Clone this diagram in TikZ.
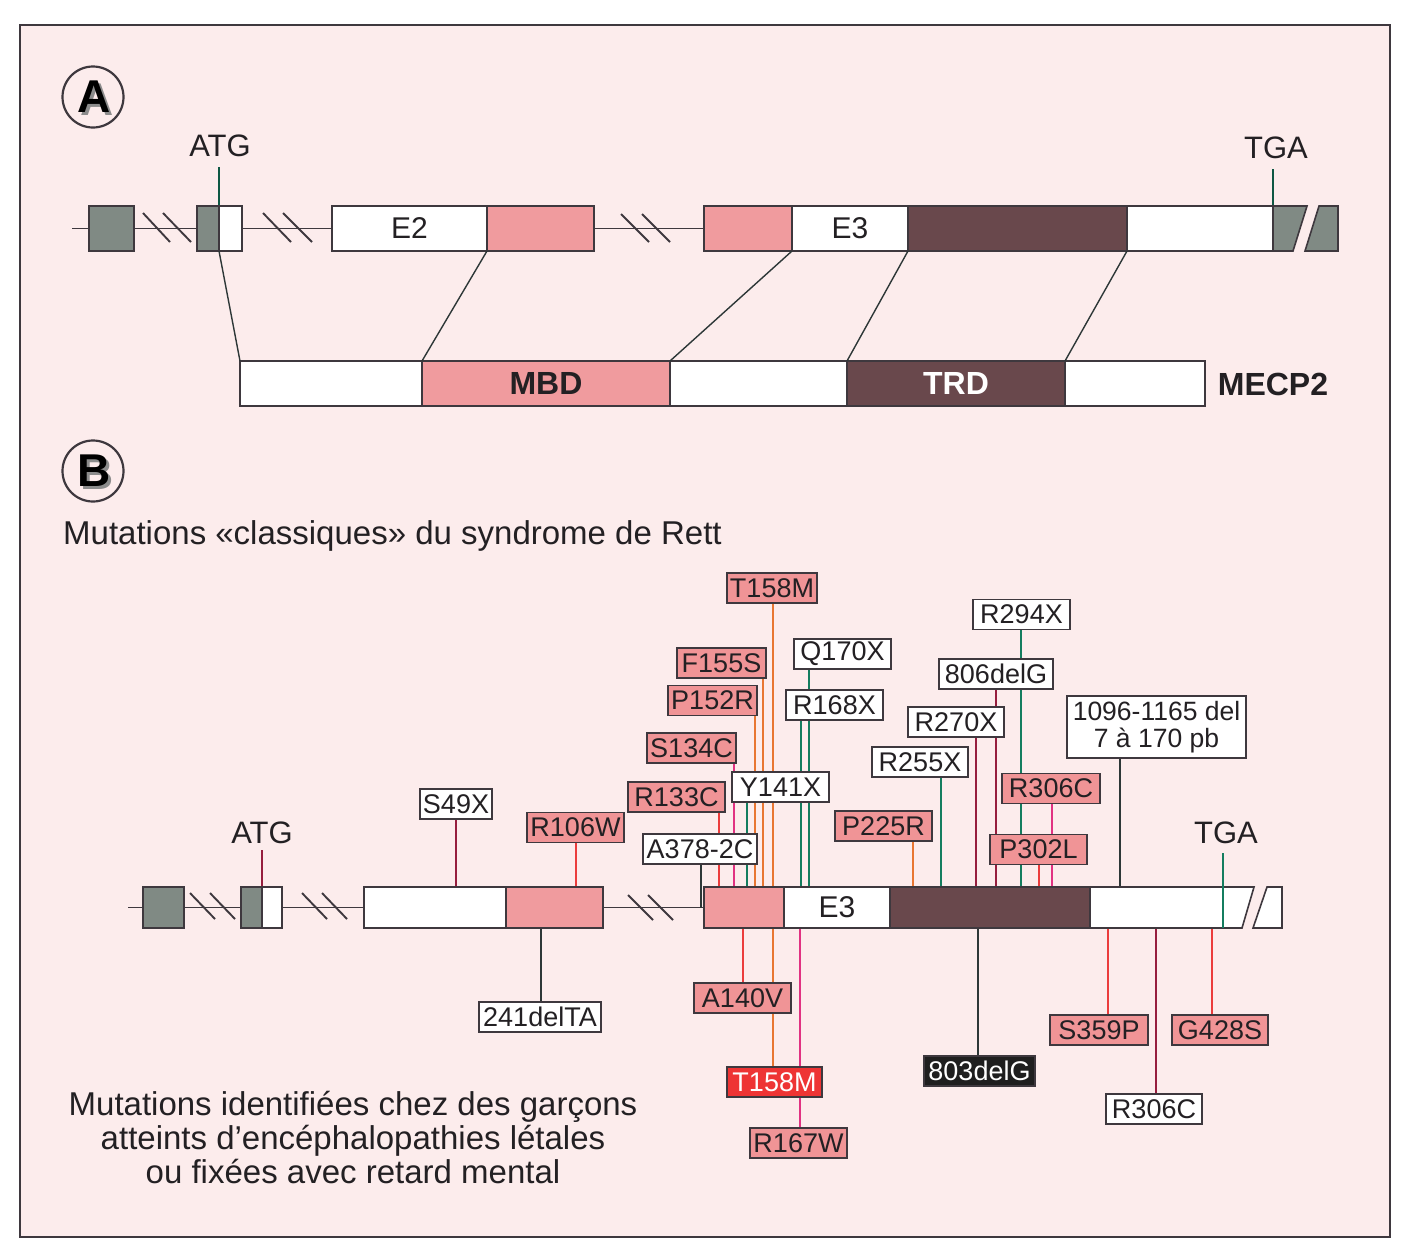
\documentclass[tikz,border=0pt]{standalone}
\usepackage{fontspec}
\setmainfont{Liberation Sans}
\pgfdeclarelayer{back}
\pgfdeclarelayer{lines}
\pgfsetlayers{back,lines,main}
\definecolor{bgpink}{RGB}{252,236,236}
\definecolor{pinkfill}{RGB}{240,155,158}
\definecolor{lpink}{RGB}{240,148,150}
\definecolor{darkfill}{RGB}{105,72,76}
\definecolor{grayfill}{RGB}{128,138,132}
\definecolor{redsolid}{RGB}{238,52,52}
\definecolor{edge}{RGB}{62,56,62}
\definecolor{txt}{RGB}{35,32,35}
\definecolor{shadowgray}{RGB}{140,140,140}
\definecolor{greenline}{RGB}{20,125,95}
\definecolor{redline}{RGB}{235,60,60}
\definecolor{orangeline}{RGB}{232,118,50}
\definecolor{magline}{RGB}{225,50,130}
\definecolor{maroon}{RGB}{150,30,62}
\definecolor{darkline}{RGB}{45,55,55}
\newcommand\gseg[6][]{\node[seg,#1,minimum width={#4-#3}] (#2) at ({(#3+#4)/2},#5) {#6};}
\newcommand\dropdn[4]{\coordinate (#1-t) at (#2,#3); \draw[con,#4] (#1.south -| #1-t) -- (#1-t);}
\newcommand\dropup[4]{\coordinate (#1-t) at (#2,#3); \draw[con,#4] (#1.north -| #1-t) -- (#1-t);}
\newcommand\shadowed[1]{\rlap{\hspace{3pt}\raisebox{-3pt}{\textcolor{shadowgray}{#1}}}#1}
\begin{document}
\begin{tikzpicture}[x=1pt,y=-1pt,
  seg/.style={draw=edge,line width=1.6pt,inner sep=0pt,outer sep=0pt,minimum height=45pt,font=\fontsize{30}{30}\selectfont,text=txt},
  segb/.style={seg,minimum height=41pt},
  lbl/.style={draw=edge,line width=1.3pt,inner xsep=1pt,inner ysep=0pt,outer sep=0pt,minimum height=30pt,font=\fontsize{27}{27}\selectfont,text=txt},
  wl/.style={lbl,fill=white},
  pl/.style={lbl,fill=lpink},
  con/.style={line width=1.4pt},
  slash/.style={line width=1.9pt,draw=edge},
  big/.style={font=\fontsize{31}{31}\selectfont,text=txt,inner sep=0pt},
  circ/.style={circle,draw=edge,line width=2.2pt,minimum size=61pt,inner sep=0pt},
  letter/.style={font=\bfseries\fontsize{46}{46}\selectfont,inner sep=0pt,text=black},
]
\useasboundingbox (0,0) rectangle (1412,1256);
\begin{pgfonlayer}{back}
\fill[white] (0,0) rectangle (1412,1256);
\draw[line width=1.6pt,draw=edge,fill=bgpink] (20,25) rectangle (1390,1237);
\end{pgfonlayer}

% ---------- A ----------
\node[circ] (cA) at (93,97) {};
\node[letter] (lA) at (94.5,98.5) {\shadowed{A}};

\gseg[fill=grayfill]{a1}{89}{134}{228.5}{}
\gseg[fill=grayfill]{a2d}{197}{219}{228.5}{}
\gseg[fill=white]{a2w}{219}{242}{228.5}{}
\gseg[fill=white]{aE2}{332}{487}{228.5}{E2}
\gseg[fill=pinkfill]{aP2}{487}{594}{228.5}{}
\gseg[fill=pinkfill]{aP3}{704}{792}{228.5}{}
\gseg[fill=white]{aE3}{792}{908}{228.5}{E3}
\gseg[fill=darkfill]{aTRD}{908}{1127}{228.5}{}
\gseg[fill=white]{aW}{1127}{1273}{228.5}{}
\draw[line width=1.6pt,draw=edge,fill=grayfill] (aW.north east) -- (1307,206) -- (1293,251) -- (aW.south east) -- cycle;
\draw[line width=1.6pt,draw=edge,fill=grayfill] (1319,206) -- (1338,206) -- (1338,251) -- (1305,251) -- cycle;

\node[big] (atgA) at (220,146) {ATG};
\node[big] (tgaA) at (1276,148) {TGA};

\gseg[fill=white]{p1}{240}{422}{383.5}{}
\gseg[fill=pinkfill,font=\bfseries\fontsize{32}{32}\selectfont]{pMBD}{422}{670}{383.5}{MBD}
\gseg[fill=white]{p3}{670}{847}{383.5}{}
\gseg[fill=darkfill,text=white,font=\bfseries\fontsize{32}{32}\selectfont]{pTRD}{847}{1065}{383.5}{TRD}
\gseg[fill=white]{p5}{1065}{1205}{383.5}{}
\node[font=\bfseries\fontsize{32}{32}\selectfont,text=txt] (mecp) at (1273,384) {MECP2};

\draw[con,darkline] (a2w.south west) -- (p1.north west);
\draw[con,darkline] (aP2.south west) -- (pMBD.north west);
\draw[con,darkline] (aE3.south west) -- (p3.north west);
\draw[con,darkline] (aTRD.south west) -- (pTRD.north west);
\draw[con,darkline] (aTRD.south east) -- (pTRD.north east);

% ---------- B ----------
\node[circ] (cB) at (93,471) {};
\node[letter] (lB) at (94.5,472.5) {\shadowed{B}};
\node[font=\fontsize{33}{33}\selectfont,text=txt,anchor=base west,inner sep=0pt] (title) at (63,544) {Mutations «classiques» du syndrome de Rett};

\gseg[segb,fill=grayfill]{b1}{143}{184}{907.5}{}
\gseg[segb,fill=grayfill]{b2d}{241}{262}{907.5}{}
\gseg[segb,fill=white]{b2w}{262}{282}{907.5}{}
\gseg[segb,fill=white]{bW}{364}{506}{907.5}{}
\gseg[segb,fill=pinkfill]{bP}{506}{603}{907.5}{}
\gseg[segb,fill=pinkfill]{bP3}{704}{784}{907.5}{}
\gseg[segb,fill=white]{bE3}{784}{890}{907.5}{E3}
\gseg[segb,fill=darkfill]{bTRD}{890}{1090}{907.5}{}
\gseg[segb,fill=white]{bW2}{1090}{1223}{907.5}{}
\draw[line width=1.6pt,draw=edge,fill=white] (bW2.north east) -- (1254,887) -- (1242,928) -- (bW2.south east) -- cycle;
\draw[line width=1.6pt,draw=edge,fill=white] (1267,887) -- (1282,887) -- (1282,928) -- (1253,928) -- cycle;

\node[big] (atgB) at (262,833) {ATG};
\node[big] (tgaB) at (1226,833) {TGA};

% labels above
\node[pl,minimum width=90pt] (T158M) at (772,588) {T158M};
\node[pl,minimum width=89pt] (F155S) at (721.5,663) {F155S};
\node[pl,minimum width=89pt] (P152R) at (712.5,700.5) {P152R};
\node[pl,minimum width=89pt] (S134C) at (691.5,748) {S134C};
\node[pl,minimum width=97pt] (R133C) at (676.5,797) {R133C};
\node[wl,minimum width=97pt] (Y141X) at (780.5,787) {Y141X};
\node[wl,minimum width=97pt] (Q170X) at (842.5,654) {Q170X};
\node[wl,minimum width=97pt] (R168X) at (834.5,705) {R168X};
\node[wl,minimum width=114pt] (A378) at (700,849) {A378-2C};
\node[pl,minimum width=97pt] (P225R) at (883.5,826) {P225R};
\node[wl,minimum width=96pt] (R255X) at (920,762) {R255X};
\node[wl,minimum width=97pt] (R294X) at (1021.5,614.5) {R294X};
\node[wl,minimum width=114pt] (d806) at (996,674) {806delG};
\node[wl,minimum width=96pt] (R270X) at (956,722) {R270X};
\node[pl,minimum width=98pt] (R306C) at (1051,788.5) {R306C};
\node[pl,minimum width=97pt] (P302L) at (1038.5,849.5) {P302L};
\node[wl,minimum width=179pt,minimum height=62pt,align=center,font=\fontsize{26.5}{27.5}\selectfont] (d1096) at (1156.5,727) {1096-1165 del\\7 à 170 pb};
\node[wl,minimum width=72pt] (S49X) at (456,804) {S49X};
\node[pl,minimum width=97pt] (R106W) at (575.5,827.5) {R106W};
% labels below
\node[wl,minimum width=122pt] (d241) at (540,1017) {241delTA};
\node[pl,minimum width=97pt] (A140V) at (742.5,998) {A140V};
\node[lbl,fill=redsolid,text=white,minimum width=95pt] (T158Mb) at (774.5,1082) {T158M};
\node[pl,minimum width=97pt] (R167W) at (798.5,1143) {R167W};
\node[lbl,fill=black!88,text=white,minimum width=111pt] (d803) at (979.5,1071) {803delG};
\node[pl,minimum width=98pt] (S359P) at (1099,1030) {S359P};
\node[pl,minimum width=96pt] (G428S) at (1220,1030) {G428S};
\node[wl,minimum width=96pt] (R306Cb) at (1154,1109) {R306C};

\node[font=\fontsize{33}{34}\selectfont,text=txt,align=center,inner sep=0pt] (legend) at (353,1137) {Mutations identifiées chez des garçons\\atteints d’encéphalopathies létales\\ou fixées avec retard mental};

\begin{pgfonlayer}{lines}
% A intron line and slashes
\coordinate (aStart) at (72,228.5);
\draw[con,edge,line width=1.8pt] (aStart) -- (aW.west);
\draw[slash] (143,213) -- (170,242);
\draw[slash] (163,213) -- (191,242);
\draw[slash] (263,213) -- (291,242);
\draw[slash] (283,213) -- (312,242);
\draw[slash] (621,214) -- (649,242);
\draw[slash] (642,214) -- (670,242);
\coordinate (atgAt) at (219,167);
\draw[con,greenline!70!black] (atgAt) -- (a2w.north west);
\coordinate (tgaAt) at (1273,169);
\draw[con,greenline!70!black] (tgaAt) -- (aW.north east);
% B intron line and slashes
\coordinate (bStart) at (128,907.5);
\draw[con,edge,line width=1.8pt] (bStart) -- (bP3.west);
\draw[slash] (190,893) -- (215,919);
\draw[slash] (210,893) -- (235,919);
\draw[slash] (302,893) -- (327,919);
\draw[slash] (322,893) -- (347,919);
\draw[slash] (628,895) -- (653,920);
\draw[slash] (648,895) -- (673,920);
\coordinate (atgBt) at (262,850);
\draw[con,maroon] (atgBt) -- (b2w.north west);
% mutation connectors
\dropdn{S49X}{456}{887}{maroon}
\dropdn{R106W}{576}{887}{redline}
\dropdn{A378}{701}{907.5}{darkline}
\dropdn{R133C}{719}{887}{redline}
\dropdn{S134C}{734}{887}{magline}
\dropdn{Y141X}{747}{887}{greenline}
\dropdn{P152R}{755}{887}{orangeline}
\dropdn{F155S}{763}{887}{orangeline}
\dropdn{T158M}{773}{887}{orangeline}
\dropdn{R168X}{801}{887}{greenline}
\dropdn{Q170X}{809}{887}{greenline}
\dropdn{P225R}{913}{887}{orangeline}
\dropdn{R255X}{941}{887}{greenline}
\dropdn{R270X}{976}{887}{maroon}
\dropdn{d806}{996}{887}{maroon}
\dropdn{R294X}{1021}{887}{greenline}
\dropdn{P302L}{1039}{887}{redline}
\dropdn{R306C}{1052}{887}{magline}
\dropdn{d1096}{1120}{887}{darkline}
\dropup{d241}{541}{928}{darkline}
\dropup{A140V}{743}{928}{redline}
\dropup{T158Mb}{773}{928}{orangeline}
\dropup{R167W}{800}{928}{magline}
\dropup{d803}{978}{928}{darkline}
\dropup{S359P}{1108}{928}{redline}
\dropup{R306Cb}{1156}{928}{maroon}
\dropup{G428S}{1212}{928}{redline}
\end{pgfonlayer}
\coordinate (tgaBt) at (1223,853);
\draw[con,greenline] (tgaBt) -- (bW2.south east);
\end{tikzpicture}
\end{document}
